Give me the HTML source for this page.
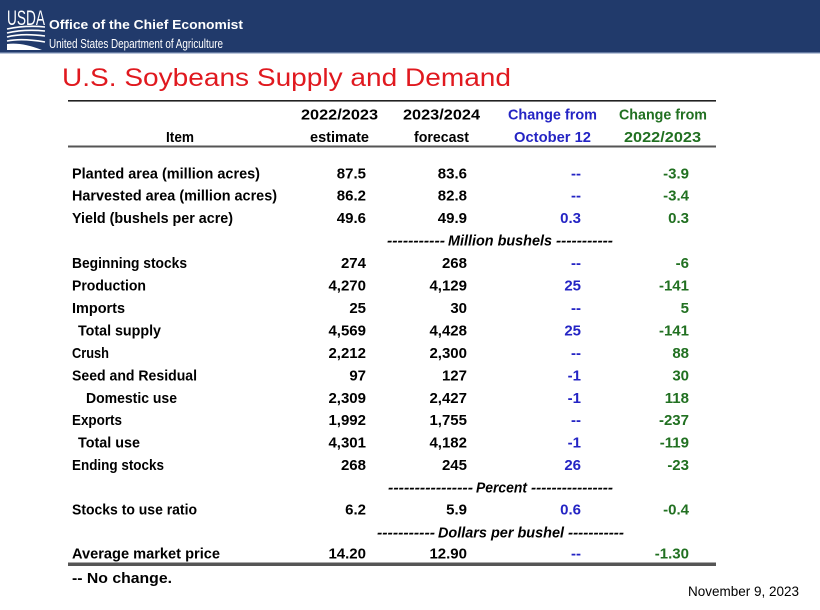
<!DOCTYPE html>
<html>
<head>
<meta charset="utf-8">
<style>
  html,body{margin:0;padding:0;background:#fff;}
  svg{display:block;}
  .b{font-family:"Liberation Sans",Arial,sans-serif;font-weight:bold;font-size:15px;fill:#000;}
  .bl{fill:#2424c4;}
  .gr{fill:#217021;}
  .it{font-style:italic;}
</style>
</head>
<body>
<svg width="820" height="610" viewBox="0 0 820 610" xmlns="http://www.w3.org/2000/svg">
  <rect x="0" y="0" width="820" height="610" fill="#ffffff"/>
  <!-- header band -->
  <rect x="0" y="0" width="820" height="53" fill="#213a6b"/>
  <rect x="0" y="52" width="820" height="2" fill="#8da0c2" opacity="0.6"/>
  <!-- USDA logo -->
  <text x="7" y="25" font-family="Liberation Sans, Arial, sans-serif" font-size="21" fill="#fff" textLength="38" lengthAdjust="spacingAndGlyphs">USDA</text>
  <path d="M7,29 Q26,25 45,27" stroke="#fff" stroke-width="1.6" fill="none"/>
  <path d="M7,33 Q24,29 45,31" stroke="#fff" stroke-width="1.6" fill="none"/>
  <path d="M7,37 Q22,33 45,36" stroke="#fff" stroke-width="1.6" fill="none"/>
  <path d="M7,41 Q22,38 45,42" stroke="#fff" stroke-width="1.6" fill="none"/>
  <path d="M7,44 Q22,42 42,50 L7,50 Z" fill="#fff"/>
  <text x="49" y="29" font-family="Liberation Sans, Arial, sans-serif" font-weight="bold" font-size="13" fill="#fff" textLength="194" lengthAdjust="spacingAndGlyphs">Office of the Chief Economist</text>
  <text x="49" y="48" font-family="Liberation Sans, Arial, sans-serif" font-size="12.5" fill="#fff" textLength="174" lengthAdjust="spacingAndGlyphs">United States Department of Agriculture</text>

  <!-- title -->
  <text x="62" y="86" font-family="Liberation Sans, Arial, sans-serif" font-size="25" fill="#e0191f" textLength="449" lengthAdjust="spacingAndGlyphs">U.S. Soybeans Supply and Demand</text>

  <!-- rules -->
  <rect x="68" y="100" width="648" height="1.6" fill="#222"/>
  <rect x="68" y="145.5" width="648" height="2" fill="#555"/>
  <rect x="68" y="562.5" width="648" height="3.5" fill="#555"/>

  <!-- header -->
  <text class="b" x="301" y="119.5" textLength="77" lengthAdjust="spacingAndGlyphs">2022/2023</text>
  <text class="b" x="310" y="142" textLength="59" lengthAdjust="spacingAndGlyphs">estimate</text>
  <text class="b" x="166" y="142" textLength="28" lengthAdjust="spacingAndGlyphs">Item</text>
  <text class="b" x="403" y="119.5" textLength="77" lengthAdjust="spacingAndGlyphs">2023/2024</text>
  <text class="b" x="414" y="142" textLength="55" lengthAdjust="spacingAndGlyphs">forecast</text>
  <text class="b bl" x="508" y="119.5" textLength="89" lengthAdjust="spacingAndGlyphs">Change from</text>
  <text class="b bl" x="514" y="142" textLength="77" lengthAdjust="spacingAndGlyphs">October 12</text>
  <text class="b gr" x="619" y="119.5" textLength="88" lengthAdjust="spacingAndGlyphs">Change from</text>
  <text class="b gr" x="624" y="142" textLength="77" lengthAdjust="spacingAndGlyphs">2022/2023</text>

  <!-- labels -->
  <g class="b">
    <text x="72" y="178.3" textLength="188" lengthAdjust="spacingAndGlyphs">Planted area (million acres)</text>
    <text x="72" y="200.7" textLength="205" lengthAdjust="spacingAndGlyphs">Harvested area (million acres)</text>
    <text x="72" y="223.2" textLength="161" lengthAdjust="spacingAndGlyphs">Yield (bushels per acre)</text>
    <text x="72" y="268.1" textLength="115" lengthAdjust="spacingAndGlyphs">Beginning stocks</text>
    <text x="72" y="290.5" textLength="74" lengthAdjust="spacingAndGlyphs">Production</text>
    <text x="72" y="313" textLength="53" lengthAdjust="spacingAndGlyphs">Imports</text>
    <text x="78" y="335.4" textLength="83" lengthAdjust="spacingAndGlyphs">Total supply</text>
    <text x="72" y="357.9" textLength="37" lengthAdjust="spacingAndGlyphs">Crush</text>
    <text x="72" y="380.3" textLength="125" lengthAdjust="spacingAndGlyphs">Seed and Residual</text>
    <text x="86" y="402.8" textLength="91" lengthAdjust="spacingAndGlyphs">Domestic use</text>
    <text x="72" y="425.2" textLength="50" lengthAdjust="spacingAndGlyphs">Exports</text>
    <text x="78" y="447.7" textLength="62" lengthAdjust="spacingAndGlyphs">Total use</text>
    <text x="72" y="470.1" textLength="92" lengthAdjust="spacingAndGlyphs">Ending stocks</text>
    <text x="72" y="514.5" textLength="125" lengthAdjust="spacingAndGlyphs">Stocks to use ratio</text>
    <text x="72" y="558.5" textLength="148" lengthAdjust="spacingAndGlyphs">Average market price</text>
    <text x="72" y="583" textLength="100" lengthAdjust="spacingAndGlyphs">-- No change.</text>
  </g>

  <!-- col1 -->
  <g class="b" text-anchor="end">
    <text x="366" y="178.3">87.5</text>
    <text x="366" y="200.7">86.2</text>
    <text x="366" y="223.2">49.6</text>
    <text x="366" y="268.1">274</text>
    <text x="366" y="290.5">4,270</text>
    <text x="366" y="313">25</text>
    <text x="366" y="335.4">4,569</text>
    <text x="366" y="357.9">2,212</text>
    <text x="366" y="380.3">97</text>
    <text x="366" y="402.8">2,309</text>
    <text x="366" y="425.2">1,992</text>
    <text x="366" y="447.7">4,301</text>
    <text x="366" y="470.1">268</text>
    <text x="366" y="514.5">6.2</text>
    <text x="366" y="558.5">14.20</text>
  </g>
  <!-- col2 -->
  <g class="b" text-anchor="end">
    <text x="467" y="178.3">83.6</text>
    <text x="467" y="200.7">82.8</text>
    <text x="467" y="223.2">49.9</text>
    <text x="467" y="268.1">268</text>
    <text x="467" y="290.5">4,129</text>
    <text x="467" y="313">30</text>
    <text x="467" y="335.4">4,428</text>
    <text x="467" y="357.9">2,300</text>
    <text x="467" y="380.3">127</text>
    <text x="467" y="402.8">2,427</text>
    <text x="467" y="425.2">1,755</text>
    <text x="467" y="447.7">4,182</text>
    <text x="467" y="470.1">245</text>
    <text x="467" y="514.5">5.9</text>
    <text x="467" y="558.5">12.90</text>
  </g>
  <!-- col3 blue -->
  <g class="b bl" text-anchor="end">
    <text x="581" y="178.3">--</text>
    <text x="581" y="200.7">--</text>
    <text x="581" y="223.2">0.3</text>
    <text x="581" y="268.1">--</text>
    <text x="581" y="290.5">25</text>
    <text x="581" y="313">--</text>
    <text x="581" y="335.4">25</text>
    <text x="581" y="357.9">--</text>
    <text x="581" y="380.3">-1</text>
    <text x="581" y="402.8">-1</text>
    <text x="581" y="425.2">--</text>
    <text x="581" y="447.7">-1</text>
    <text x="581" y="470.1">26</text>
    <text x="581" y="514.5">0.6</text>
    <text x="581" y="558.5">--</text>
  </g>
  <!-- col4 green -->
  <g class="b gr" text-anchor="end">
    <text x="689" y="178.3">-3.9</text>
    <text x="689" y="200.7">-3.4</text>
    <text x="689" y="223.2">0.3</text>
    <text x="689" y="268.1">-6</text>
    <text x="689" y="290.5">-141</text>
    <text x="689" y="313">5</text>
    <text x="689" y="335.4">-141</text>
    <text x="689" y="357.9">88</text>
    <text x="689" y="380.3">30</text>
    <text x="689" y="402.8">118</text>
    <text x="689" y="425.2">-237</text>
    <text x="689" y="447.7">-119</text>
    <text x="689" y="470.1">-23</text>
    <text x="689" y="514.5">-0.4</text>
    <text x="689" y="558.5">-1.30</text>
  </g>

  <!-- unit rows -->
  <g class="b it">
    <text x="387" y="245.5" textLength="58" lengthAdjust="spacingAndGlyphs">-----------</text>
    <text x="448" y="245.5" textLength="104" lengthAdjust="spacingAndGlyphs">Million bushels</text>
    <text x="556" y="245.5" textLength="57" lengthAdjust="spacingAndGlyphs">-----------</text>

    <text x="388" y="492.6" textLength="85" lengthAdjust="spacingAndGlyphs">----------------</text>
    <text x="476" y="492.6" textLength="51" lengthAdjust="spacingAndGlyphs">Percent</text>
    <text x="531" y="492.6" textLength="82" lengthAdjust="spacingAndGlyphs">----------------</text>

    <text x="377" y="537.5" textLength="58" lengthAdjust="spacingAndGlyphs">-----------</text>
    <text x="438" y="537.5" textLength="126" lengthAdjust="spacingAndGlyphs">Dollars per bushel</text>
    <text x="568" y="537.5" textLength="56" lengthAdjust="spacingAndGlyphs">-----------</text>
  </g>

  <!-- date -->
  <text x="688" y="596" font-family="Liberation Sans, Arial, sans-serif" font-size="14" fill="#000" textLength="111" lengthAdjust="spacingAndGlyphs">November 9, 2023</text>
</svg>
</body>
</html>
